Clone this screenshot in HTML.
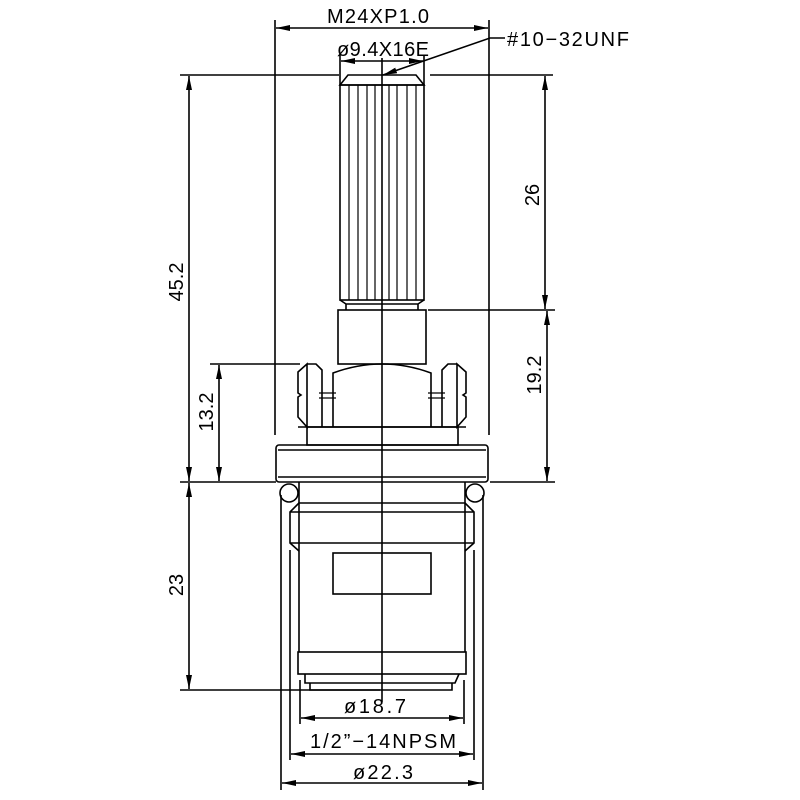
<!DOCTYPE html>
<html><head><meta charset="utf-8"><style>html,body{margin:0;padding:0;background:#fff}svg{display:block}text{font-family:"Liberation Sans",sans-serif;font-size:20px;fill:#000}</style></head>
<body>
<svg width="800" height="800" viewBox="0 0 800 800" xmlns="http://www.w3.org/2000/svg">
<defs><marker id="a" markerWidth="14" markerHeight="6" refX="14" refY="3" orient="auto-start-reverse" markerUnits="userSpaceOnUse"><path d="M0,0 L14,3 L0,6 z" fill="#000"/></marker></defs>
<g fill="none" stroke="#000" stroke-width="1.6">
<line x1="382" y1="58" x2="382" y2="702"/>
<path d="M340,85 L348,75 L416,75 L424,85 Z"/>
<rect x="340" y="85" width="84" height="215"/>
<g stroke-width="1.2">
<line x1="349" y1="85" x2="349" y2="300"/><line x1="358" y1="85" x2="358" y2="300"/><line x1="367" y1="85" x2="367" y2="300"/><line x1="375" y1="85" x2="375" y2="300"/><line x1="389" y1="85" x2="389" y2="300"/><line x1="397" y1="85" x2="397" y2="300"/><line x1="407" y1="85" x2="407" y2="300"/><line x1="416" y1="85" x2="416" y2="300"/>
</g>
<path d="M340,300 L346,304 L346,310 M424,300 L418,304 L418,310 M346,304 L418,304"/>
<rect x="338" y="310" width="88" height="54"/>
<path d="M307,364 L316,364 L322,370 L322,427 M307,364 L298,372 L298,393 L301,395 L298,397 L298,417 L307,427 Z"/>
<path d="M457,364 L448,364 L442,370 L442,427 M457,364 L466,372 L466,393 L463,395 L466,397 L466,417 L457,427 Z"/>
<path d="M333,427 L333,373 Q382,355 431,373 L431,427"/>
<line x1="298" y1="427" x2="466" y2="427"/>
<path d="M319,393 L336,393 M319,398 L336,398 M428,393 L445,393 M428,398 L445,398" stroke-width="1.2"/>
<rect x="307" y="427" width="151" height="18"/>
<rect x="276" y="445" width="212" height="37" rx="3"/>
<line x1="278" y1="450" x2="486" y2="450"/><line x1="278" y1="477" x2="486" y2="477"/>
<circle cx="289" cy="493" r="9"/><circle cx="475" cy="493" r="9"/>
<line x1="299" y1="482" x2="299" y2="652"/><line x1="465" y1="482" x2="465" y2="652"/>
<line x1="299" y1="503" x2="465" y2="503"/>
<path d="M299,503 L290,512 L290,543 L299,551 M465,503 L474,512 L474,543 L465,551"/>
<line x1="290" y1="512" x2="474" y2="512"/><line x1="290" y1="543" x2="474" y2="543"/>
<rect x="333" y="553" width="98" height="41"/>
<rect x="298" y="652" width="168" height="22"/>
<path d="M305,674 L305,683 L455,683 L459,674 M310,683 L310,690 L452,690 L452,683"/>
<line x1="275" y1="20" x2="275" y2="435"/><line x1="489" y1="20" x2="489" y2="435"/>
<line x1="340" y1="55" x2="340" y2="85"/><line x1="424" y1="55" x2="424" y2="85"/>
<line x1="180" y1="75" x2="339" y2="75"/><line x1="430" y1="75" x2="553" y2="75"/>
<line x1="428" y1="310" x2="555" y2="310"/>
<line x1="210" y1="364" x2="300" y2="364"/>
<line x1="180" y1="482" x2="276" y2="482"/><line x1="490" y1="482" x2="555" y2="482"/>
<line x1="180" y1="690" x2="380" y2="690"/>
<line x1="281" y1="495" x2="281" y2="790"/><line x1="483" y1="495" x2="483" y2="790"/>
<line x1="290" y1="550" x2="290" y2="760"/><line x1="474" y1="550" x2="474" y2="760"/>
<line x1="300" y1="680" x2="300" y2="724"/><line x1="464" y1="680" x2="464" y2="724"/>
<line x1="276" y1="28" x2="488" y2="28" marker-start="url(#a)" marker-end="url(#a)"/>
<line x1="341" y1="61" x2="423" y2="61" marker-start="url(#a)" marker-end="url(#a)"/>
<polyline points="505,38 490,38 383,75" marker-end="url(#a)"/>
<line x1="545" y1="76" x2="545" y2="309" marker-start="url(#a)" marker-end="url(#a)"/>
<line x1="547" y1="311" x2="547" y2="481" marker-start="url(#a)" marker-end="url(#a)"/>
<line x1="189" y1="76" x2="189" y2="481" marker-start="url(#a)" marker-end="url(#a)"/>
<line x1="219" y1="365" x2="219" y2="481" marker-start="url(#a)" marker-end="url(#a)"/>
<line x1="189" y1="483" x2="189" y2="689" marker-start="url(#a)" marker-end="url(#a)"/>
<line x1="301" y1="718" x2="463" y2="718" marker-start="url(#a)" marker-end="url(#a)"/>
<line x1="291" y1="754" x2="473" y2="754" marker-start="url(#a)" marker-end="url(#a)"/>
<line x1="282" y1="783" x2="482" y2="783" marker-start="url(#a)" marker-end="url(#a)"/>
</g>
<text x="378" y="23" text-anchor="middle" textLength="102">M24XP1.0</text>
<text x="383" y="56" text-anchor="middle" textLength="92">ø9.4X16E</text>
<text x="507" y="46" textLength="122">#10−32UNF</text>
<text x="375" y="713" text-anchor="middle" textLength="62">ø18.7</text>
<text x="383" y="748" text-anchor="middle" textLength="146">1/2”−14NPSM</text>
<text x="383" y="779" text-anchor="middle" textLength="60">ø22.3</text>
<text transform="translate(539,195) rotate(-90)" text-anchor="middle">26</text>
<text transform="translate(541,375) rotate(-90)" text-anchor="middle">19.2</text>
<text transform="translate(183,282) rotate(-90)" text-anchor="middle">45.2</text>
<text transform="translate(213,412) rotate(-90)" text-anchor="middle">13.2</text>
<text transform="translate(183,585) rotate(-90)" text-anchor="middle">23</text>
</svg>
</body></html>
